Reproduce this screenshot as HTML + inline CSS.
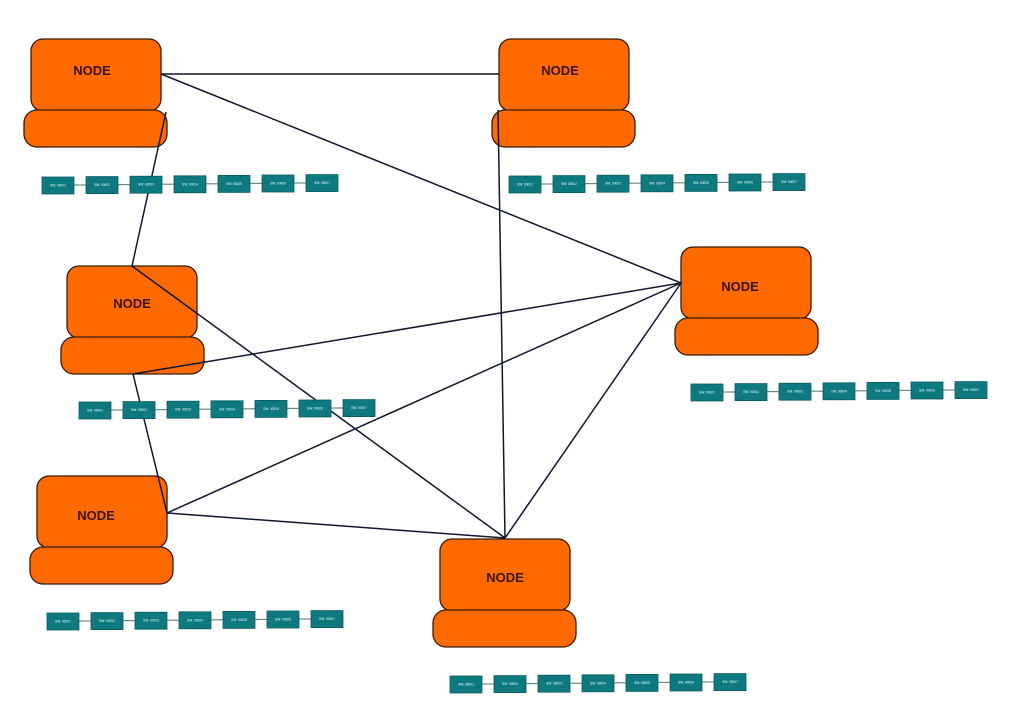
<!DOCTYPE html>
<html><head><meta charset="utf-8"><style>
html,body{margin:0;padding:0;background:#fff;width:1024px;height:724px;overflow:hidden}
svg{display:block}
.n{fill:#ff6a00;stroke:#3a1a0a;stroke-width:1.3}
.t{font-family:"Liberation Sans",sans-serif;font-weight:bold;font-size:13px;fill:#3a1208;text-anchor:middle}
.b{fill:#0e7a80;stroke:#0a5a60;stroke-width:0.8}
.bt{font-family:"Liberation Sans",sans-serif;font-size:3.2px;fill:#e8ffff;text-anchor:middle}
.c{stroke:#6a8a8a;stroke-width:1.2}
.l{stroke:#101830;stroke-width:1.5;fill:none}
</style></head><body>
<svg width="1024" height="724" viewBox="0 0 1024 724">
<g id="nodes">
<rect class="n" x="31" y="39" width="130" height="72" rx="12"/><rect class="n" x="24" y="110" width="143" height="37" rx="13"/><text class="t" x="92" y="75">NODE</text>
<rect class="n" x="499" y="39" width="130" height="72" rx="12"/><rect class="n" x="492" y="110" width="143" height="37" rx="13"/><text class="t" x="560" y="75">NODE</text>
<rect class="n" x="67" y="266" width="130" height="72" rx="12"/><rect class="n" x="61" y="337" width="143" height="37" rx="13"/><text class="t" x="132" y="308">NODE</text>
<rect class="n" x="681" y="247" width="130" height="72" rx="12"/><rect class="n" x="675" y="318" width="143" height="37" rx="13"/><text class="t" x="740" y="291">NODE</text>
<rect class="n" x="37" y="476" width="130" height="72" rx="12"/><rect class="n" x="30" y="547" width="143" height="37" rx="13"/><text class="t" x="96" y="520">NODE</text>
<rect class="n" x="440" y="539" width="130" height="72" rx="12"/><rect class="n" x="433" y="610" width="143" height="37" rx="13"/><text class="t" x="505" y="582">NODE</text>
</g>
<g>
<line class="l" x1="161" y1="74" x2="499" y2="74"/>
<line class="l" x1="161" y1="74" x2="681" y2="283"/>
<line class="l" x1="166" y1="112" x2="132" y2="266"/>
<line class="l" x1="498" y1="110" x2="505" y2="538"/>
<line class="l" x1="132" y1="266" x2="505" y2="538"/>
<line class="l" x1="133" y1="374" x2="681" y2="283"/>
<line class="l" x1="133" y1="374" x2="167" y2="513"/>
<line class="l" x1="167" y1="513" x2="681" y2="283"/>
<line class="l" x1="167" y1="513" x2="505" y2="538"/>
<line class="l" x1="681" y1="283" x2="505" y2="538"/>
</g>
<g id="rows"></g>
</svg>
<script>
var rows=[[42,177],[509,176],[79,402],[691,384],[47,613],[450,676]];
var g=document.getElementById('rows'),s='';
rows.forEach(function(r){
 for(var i=0;i<7;i++){
  var x=r[0]+i*44,y=r[1]-i*0.4;
  if(i<6)s+='<line class="c" x1="'+(x+32)+'" y1="'+(y+8)+'" x2="'+(x+44)+'" y2="'+(y+8)+'"/>';
  s+='<rect class="b" x="'+x+'" y="'+y+'" width="32" height="17"/>';
  s+='<text class="bt" x="'+(x+16)+'" y="'+(y+9.5)+'">SW: 0000'+(i+1)+'</text>';
 }
});
g.innerHTML=s;
</script>
</body></html>
